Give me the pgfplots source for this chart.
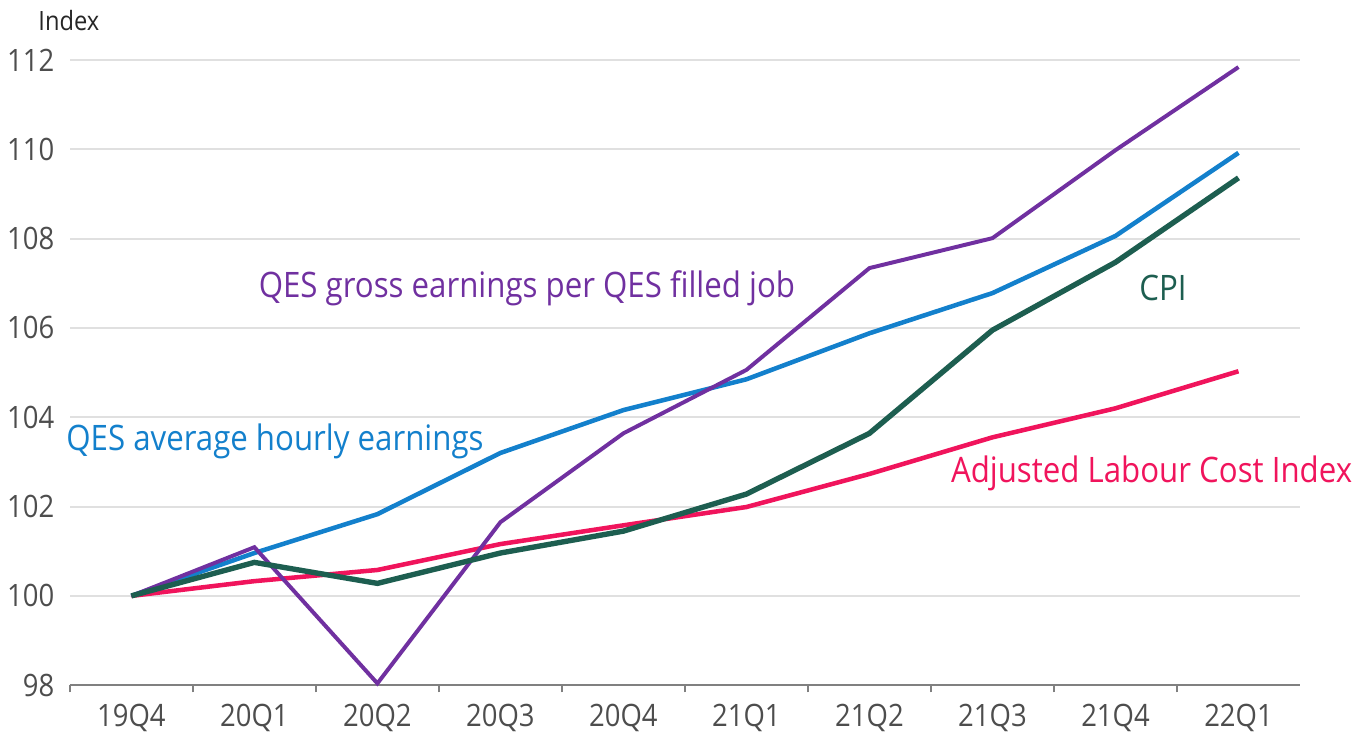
\documentclass[border=0pt]{standalone}
\usepackage{fontspec}
\setmainfont{Open Sans}
\usepackage{graphicx}
\usepackage{pgfplots}
\pgfplotsset{compat=1.18}
\definecolor{cpurple}{HTML}{7030A0}
\definecolor{cblue}{HTML}{1380CC}
\definecolor{cgreen}{HTML}{1D5E50}
\definecolor{cpink}{HTML}{F0145C}
\definecolor{cgrid}{HTML}{E0E0E0}
\definecolor{caxis}{HTML}{808080}
\definecolor{ctick}{HTML}{4D4D4D}
\newcommand{\sx}[1]{\scalebox{0.89}[1]{#1}}
\newcommand{\lblfont}{\fontsize{12.4}{14}\selectfont}
\newcommand{\tckfont}{\fontsize{10.9}{12}\selectfont}
\begin{document}
\begin{tikzpicture}
\begin{axis}[
  scale only axis, width=434.8pt, height=221pt,
  xmin=-0.5, xmax=9.5, ymin=98, ymax=112,
  xtick={0,1,2,3,4,5,6,7,8,9},
  xticklabels={\sx{19Q4},\sx{20Q1},\sx{20Q2},\sx{20Q3},\sx{20Q4},\sx{21Q1},\sx{21Q2},\sx{21Q3},\sx{21Q4},\sx{22Q1}},
  minor xtick={-0.5,0.5,1.5,2.5,3.5,4.5,5.5,6.5,7.5,8.5},
  ytick={98,100,102,104,106,108,110,112},
  yticklabels={\sx{98},\sx{100},\sx{102},\sx{104},\sx{106},\sx{108},\sx{110},\sx{112}},
  axis x line*=bottom, axis y line*=left,
  y axis line style={draw=none},
  x axis line style={caxis, line width=0.7pt, -},
  ymajorgrids, grid style={cgrid, line width=0.7pt},
  major tick length=0pt, minor tick length=2.5pt, tick align=outside,
  minor x tick style={caxis, line width=0.5pt},
  ytick style={draw=none},
  xticklabel style={font=\tckfont, text=ctick, anchor=center, inner sep=0pt, yshift=-11.7pt},
  yticklabel style={font=\tckfont, text=ctick, anchor=east, inner sep=0pt, xshift=-5.3pt},
  /pgf/number format/assume math mode=true,
  clip=false,
]
\coordinate (o) at (rel axis cs:0,0);
\coordinate (t) at (rel axis cs:0,1);
\addplot[cpink, line width=1.6pt] coordinates {(0,100) (1,100.33) (2,100.58) (3,101.16) (4,101.58) (5,101.99) (6,102.73) (7,103.55) (8,104.2) (9,105.03)};
\addplot[cblue, line width=1.6pt] coordinates {(0,100) (1,100.96) (2,101.83) (3,103.2) (4,104.16) (5,104.85) (6,105.88) (7,106.78) (8,108.06) (9,109.92)};
\addplot[cpurple, line width=1.4pt] coordinates {(0,100) (1,101.09) (2,98.04) (3,101.65) (4,103.64) (5,105.06) (6,107.34) (7,108.01) (8,109.98) (9,111.84)};
\addplot[cgreen, line width=1.9pt] coordinates {(0,100) (1,100.75) (2,100.28) (3,100.96) (4,101.45) (5,102.28) (6,103.64) (7,105.95) (8,107.47) (9,109.36)};
\node[text=cpurple, font=\lblfont, inner sep=0pt] at (axis cs:3.215,106.89) {\sx{QES gross earnings per QES filled job}};
\node[text=cgreen, font=\lblfont, inner sep=0pt] at (axis cs:8.386,106.89) {\sx{CPI}};
\node[text=cblue, font=\lblfont, inner sep=0pt] at (axis cs:1.167,103.47) {\sx{QES average hourly earnings}};
\node[text=cpink, font=\lblfont, inner sep=0pt] at (axis cs:8.293,102.75) {\sx{Adjusted Labour Cost Index}};
\end{axis}
\node[anchor=west, inner sep=0pt, font=\fontsize{9.4}{11}\selectfont, text=black!85] at ([xshift=-11.3pt, yshift=14.1pt]t) {\sx{Index}};
\path (o) +(-24.7pt,-19.1pt) rectangle +(455.3pt,242.2pt);
\end{tikzpicture}
\end{document}
